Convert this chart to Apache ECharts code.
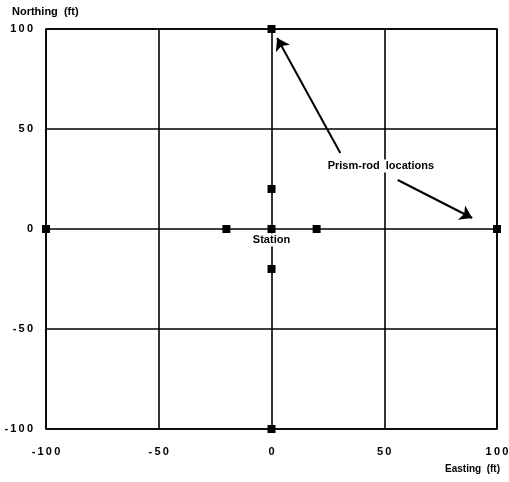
<!DOCTYPE html>
<html>
<head>
<meta charset="utf-8">
<script src="https://cdn.jsdelivr.net/npm/echarts@6/dist/echarts.min.js"></script>
<style>
html,body{margin:0;padding:0;background:#fff;}
#chart{width:509px;height:482px;}
</style>
</head>
<body>
<div id="chart"></div>
<script>
// Survey layout: prism-rod positions around the station (feet)
const eastings  = [0, 0, 0, 0, 0, -20, 20, -100, 100];
const northings = [100, 20, 0, -20, -100, 0, 0, 0, 0];
const axisTicks = [-100, -50, 0, 50, 100];

// Annotation arrows: [from, to] in data coordinates
const arrowLines = [
  [[30.5, 38], [2.5, 95.5]],
  [[56, 24.5], [89, 5.5]]
];
const noteText = ['Prism-rod  locations', 'Station'];
const notePos = [[48.5, 31.5], [0, -5.5]];

const FONT = '"Liberation Sans", Arial, sans-serif';
const spaced = v => String(v).split('').join('\u2009');
const chart = echarts.init(document.getElementById('chart'), null, {renderer: 'canvas'});

const axisCommon = {
  type: 'value',
  min: axisTicks[0],
  max: axisTicks[axisTicks.length - 1],
  interval: 50,
  axisLine: {show: false},
  axisTick: {show: false},
  splitLine: {show: true, lineStyle: {color: '#000', width: 1.6}},
  axisLabel: {color: '#000', fontFamily: FONT, fontWeight: 'bold', fontSize: 11, formatter: spaced}
};

chart.setOption({
  animation: false,
  backgroundColor: '#fff',
  grid: {
    left: 46, right: 12, top: 29, bottom: 53,
    containLabel: false, outerBoundsMode: 'none',
    show: true, borderColor: '#000', borderWidth: 1.6
  },
  xAxis: Object.assign({}, axisCommon, {
    axisLabel: Object.assign({}, axisCommon.axisLabel, {margin: 17})
  }),
  yAxis: Object.assign({}, axisCommon, {
    axisLabel: Object.assign({}, axisCommon.axisLabel, {margin: 13})
  }),
  graphic: [
    {type: 'text', left: 12, top: 6,
     style: {text: 'Northing  (ft)', font: 'bold 11px ' + FONT, fill: '#000'}},
    {type: 'text', right: 9, top: 464,
     style: {text: 'Easting  (ft)', font: 'bold 10px ' + FONT, fill: '#000'}}
  ],
  series: [
    {
      type: 'scatter',
      symbol: 'rect',
      symbolSize: 8,
      itemStyle: {color: '#000', opacity: 1},
      data: eastings.map((e, i) => [e, northings[i]]),
      markLine: {
        silent: true,
        symbol: ['none', 'arrow'],
        symbolSize: 12,
        lineStyle: {color: '#000', width: 2, type: 'solid', opacity: 1},
        itemStyle: {color: '#000', opacity: 1},
        label: {show: false},
        emphasis: {disabled: true},
        data: arrowLines.map(l => [{coord: l[0]}, {coord: l[1]}])
      }
    },
    {
      type: 'scatter',
      symbolSize: 0,
      silent: true,
      itemStyle: {color: '#000', opacity: 1},
      data: notePos.map((p, i) => ({value: p, name: noteText[i]})),
      label: {
        show: true,
        position: 'inside',
        formatter: p => p.name,
        color: '#000',
        opacity: 1,
        textBorderWidth: 0,
        fontFamily: FONT,
        fontWeight: 'bold',
        fontSize: 11,
        backgroundColor: '#fff',
        padding: [1, 2]
      }
    }
  ]
});
</script>
</body>
</html>
